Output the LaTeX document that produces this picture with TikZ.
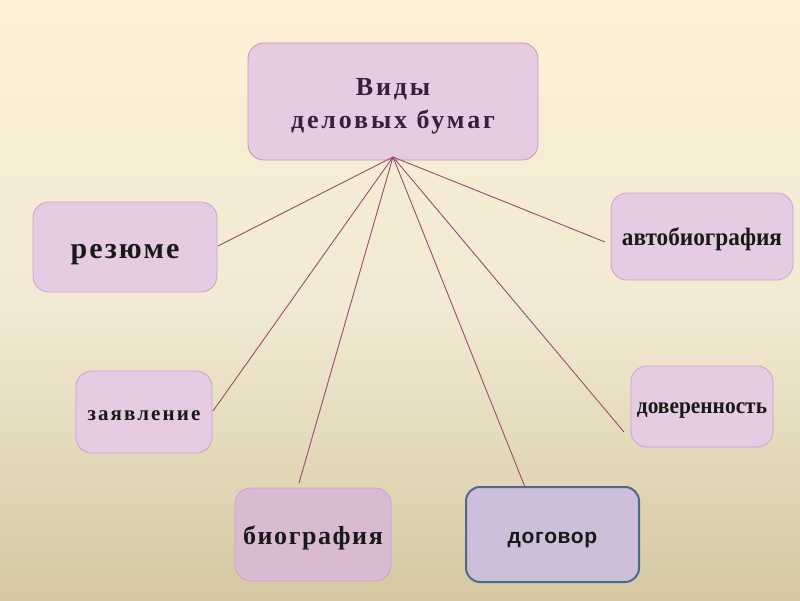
\documentclass[tikz,border=0pt]{standalone}
\usepackage{fontspec}
\setmainfont{Liberation Serif}
\newfontfamily\sansf{Liberation Sans}
\newfontfamily\condserif[FakeStretch=0.93]{Liberation Serif}
\definecolor{bgtop}{HTML}{FDF0D6}
\definecolor{bgmid}{HTML}{F2EAD4}
\definecolor{bgbot}{HTML}{D5C8A2}
\definecolor{boxfill}{HTML}{E6CCE3}
\definecolor{boxfilldark}{HTML}{D8BBD2}
\definecolor{boxline}{HTML}{C9A2CF}
\definecolor{linkcol}{HTML}{9A4A6E}
\definecolor{titletext}{HTML}{3A1E3C}
\definecolor{dogfill}{HTML}{CBBFD9}
\definecolor{dogline}{HTML}{4F6A86}
\newcommand{\basetext}[2]{\raisebox{#1}[0pt][0pt]{#2}}
\tikzset{
  kind/.style={draw=boxline, line width=0.8pt, rounded corners=16pt, fill=boxfill,
    text=black!90, align=center, inner sep=0pt, font=\bfseries},
  link/.style={draw=linkcol, line width=0.9pt},
}
\begin{document}
\begin{tikzpicture}[x=1pt,y=-1pt]
\useasboundingbox (0,0) rectangle (800,600);
\shade[top color=bgtop, bottom color=bgbot, middle color=bgmid] (0,0) rectangle (800,600);

\node[kind, draw=boxline!70!brown, minimum width=290pt, minimum height=117pt, text=titletext,
  font=\bfseries\fontsize{26}{33}\selectfont\addfontfeatures{LetterSpace=11}] (title) at (393,101.5)
  {\basetext{6.5pt}{\begin{tabular}[t]{@{}c@{}}Виды\\деловых бумаг\end{tabular}}};
\node[kind, minimum width=184pt, minimum height=90pt, font=\bfseries\fontsize{30}{32}\selectfont\addfontfeatures{LetterSpace=7}] (rez) at (125,247) {\basetext{-11pt}{резюме}};
\node[kind, minimum width=136pt, minimum height=82pt, font=\bfseries\fontsize{21}{24}\selectfont\addfontfeatures{LetterSpace=10}] (zay) at (144,412) {\basetext{-8pt}{заявление}};
\node[kind, fill=boxfilldark, minimum width=156pt, minimum height=93pt, font=\bfseries\fontsize{26}{28}\selectfont\addfontfeatures{LetterSpace=6}] (bio) at (313,534.5) {\basetext{-9.5pt}{биография}};
\node[kind, fill=dogfill, draw=dogline, line width=2pt, rounded corners=14pt, minimum width=173pt, minimum height=95pt, font=\sansf\bfseries\fontsize{21}{22}\selectfont\addfontfeatures{LetterSpace=3}] (dog) at (552.5,534.5) {\basetext{-8.5pt}{договор}};
\node[kind, minimum width=182pt, minimum height=87pt, font=\condserif\bfseries\fontsize{25}{26}\selectfont] (avt) at (702,236.5) {\basetext{-8.5pt}{автобиография}};
\node[kind, minimum width=142pt, minimum height=81pt, font=\condserif\bfseries\fontsize{23}{24}\selectfont] (dov) at (702,406.5) {\basetext{-6.5pt}{доверенность}};

\coordinate (hub) at (393,157);
\coordinate (e-rez) at (218,246);
\coordinate (e-zay) at (213,411);
\coordinate (e-bio) at (299,483);
\coordinate (e-dog) at (525,487);
\coordinate (e-avt) at (605,242);
\coordinate (e-dov) at (624,432);
\foreach \e in {rez,zay,bio,dog,avt,dov} {\draw[link] (hub) -- (e-\e);}
\end{tikzpicture}
\end{document}
